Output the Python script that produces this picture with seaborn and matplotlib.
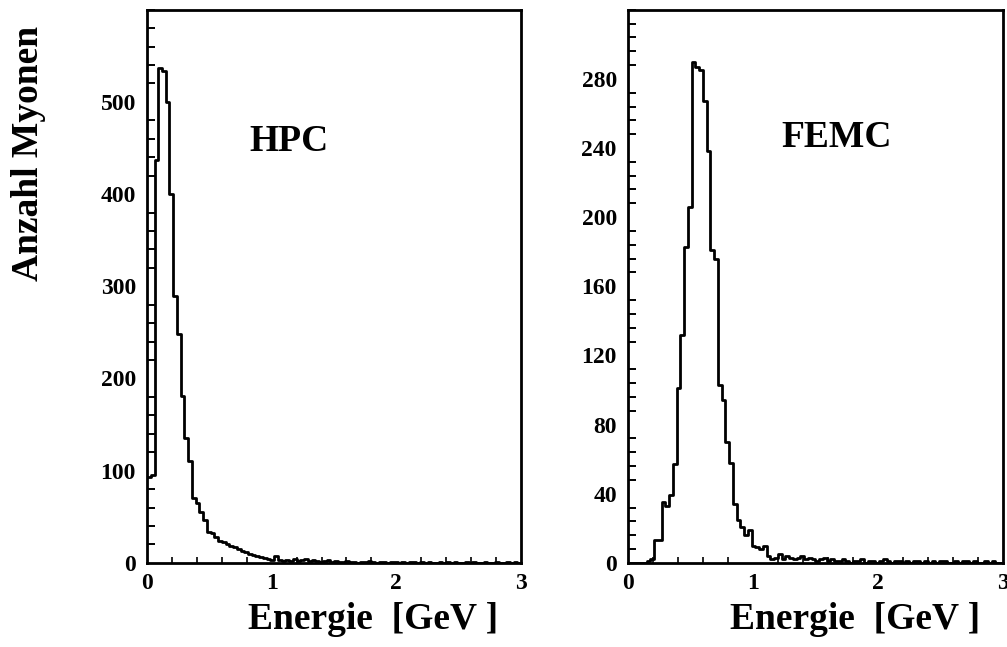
import numpy as np
import pandas as pd
import matplotlib
matplotlib.use("Agg")
import matplotlib.pyplot as plt
from matplotlib.ticker import MultipleLocator
import seaborn as sns

# Energy binning shared by both calorimeters: 100 bins of 0.03 GeV from 0 to 3 GeV
bin_edges = [round(0.03 * k, 4) for k in range(101)]
bin_centers = [round(0.5 * (a + b), 4) for a, b in zip(bin_edges[:-1], bin_edges[1:])]

# Muon counts per bin, HPC
hpc_counts = [
    93, 95, 437, 537, 533, 500, 400, 290, 248, 181,
    136, 111, 70, 65, 55, 46, 34, 32, 28, 24,
    23, 20, 18, 17, 15, 13, 12, 10, 9, 7,
    6, 5, 4, 3, 7, 3, 2, 3, 2, 4,
    2, 3, 4, 2, 3, 2, 1, 2, 3, 1,
    2, 1, 1, 2, 1, 1, 0, 1, 1, 2,
    1, 0, 1, 1, 0, 1, 1, 0, 1, 0,
    1, 1, 0, 1, 0, 1, 0, 0, 1, 0,
    1, 0, 1, 0, 0, 1, 0, 1, 0, 0,
    1, 0, 0, 1, 0, 0, 1, 0, 1, 0,
]

# Muon counts per bin, FEMC
femc_counts = [
    0, 0, 0, 0, 0, 1, 2, 13, 13, 35,
    33, 39, 57, 101, 132, 183, 206, 290, 287, 285,
    267, 238, 181, 176, 103, 94, 70, 58, 34, 25,
    21, 16, 19, 10, 9, 8, 10, 4, 2, 3,
    5, 2, 4, 3, 2, 3, 4, 2, 3, 2,
    1, 2, 3, 1, 2, 1, 1, 2, 1, 0,
    1, 1, 2, 0, 1, 1, 0, 1, 2, 1,
    0, 1, 1, 0, 1, 0, 1, 1, 0, 1,
    0, 1, 0, 1, 1, 0, 0, 1, 0, 1,
    1, 0, 1, 0, 0, 1, 0, 1, 0, 0,
]

panel_names = ["HPC", "FEMC"]
y_tick_labels = [[0, 100, 200, 300, 400, 500], [0, 40, 80, 120, 160, 200, 240, 280]]
x_tick_labels = [0, 1, 2, 3]
x_label = "Energie  [GeV ]"
y_label = "Anzahl Myonen"

sns.set_theme(style="white")
plt.rcParams["font.family"] = ["Liberation Serif", "DejaVu Serif"]
plt.rcParams["font.weight"] = "bold"

fig = plt.figure(figsize=(10.07, 6.47), dpi=100)
ax_l = fig.add_axes([0.146, 0.130, 0.3714, 0.855])
ax_r = fig.add_axes([0.6236, 0.130, 0.3724, 0.855])

panels = [
    (ax_l, hpc_counts, 600, 20, (0.82, 457)),
    (ax_r, femc_counts, 320, 8, (1.23, 246)),
]

for i, (ax, counts, ytop, yminor, name_pos) in enumerate(panels):
    df = pd.DataFrame({"energy": bin_centers, "count": counts})
    sns.histplot(data=df, x="energy", weights="count", bins=bin_edges,
                 element="step", fill=False, color="black", linewidth=2.0, ax=ax)
    ax.set_xlim(0, 3)
    ax.set_ylim(0, ytop)

    ax.set_xticks(x_tick_labels)
    ax.set_xticklabels([str(v) for v in x_tick_labels])
    ax.xaxis.set_minor_locator(MultipleLocator(0.2))
    ax.set_yticks(y_tick_labels[i])
    ax.set_yticklabels([str(v) for v in y_tick_labels[i]])
    ax.yaxis.set_minor_locator(MultipleLocator(yminor))

    ax.tick_params(axis="both", which="major", direction="in", labelsize=17,
                   width=1.6, color="black", labelcolor="black")
    ax.tick_params(axis="y", which="major", length=12, pad=8)
    ax.tick_params(axis="y", which="minor", direction="in", length=6, width=1.4,
                   left=True, color="black")
    ax.tick_params(axis="x", which="major", length=8, pad=7)
    ax.tick_params(axis="x", which="minor", direction="in", length=4, width=1.2,
                   bottom=True, color="black")
    ax.tick_params(top=False, right=False)
    for lab in ax.get_xticklabels() + ax.get_yticklabels():
        lab.set_fontweight("bold")

    for sp in ax.spines.values():
        sp.set_visible(True)
        sp.set_color("black")
        sp.set_linewidth(2.0)

    ax.set_ylabel("")
    ax.set_xlabel(x_label, fontsize=27, fontweight="bold", color="black")
    ax.xaxis.set_label_coords(0.94, -0.07)
    ax.xaxis.label.set_horizontalalignment("right")

    ax.text(name_pos[0], name_pos[1], panel_names[i], fontsize=27,
            fontweight="bold", ha="left", va="center", color="black")
    ax.grid(False)

ax_l.set_ylabel(y_label, fontsize=27, fontweight="bold", color="black")
ax_l.yaxis.set_label_coords(-0.27, 0.97)
ax_l.yaxis.label.set_horizontalalignment("right")

fig.savefig("out.png", dpi=100, facecolor="white")
